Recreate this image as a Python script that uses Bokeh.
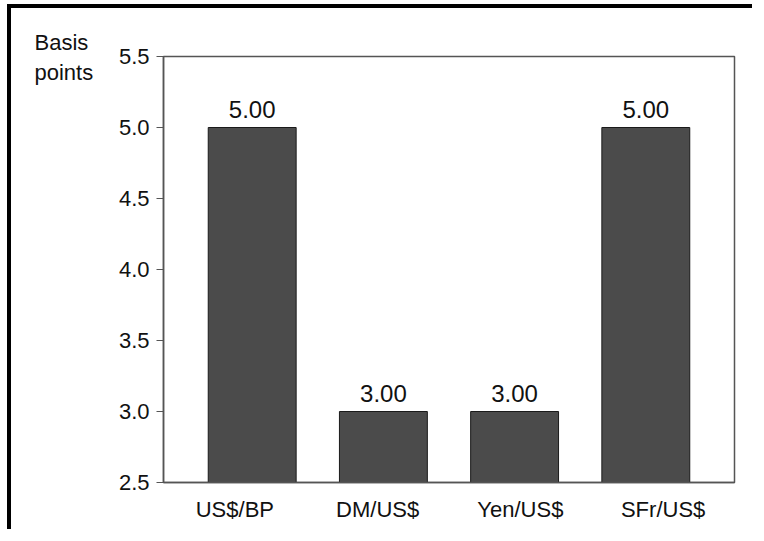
from bokeh.plotting import figure
from bokeh.models import (ColumnDataSource, FactorRange, Range1d, FixedTicker,
                          LabelSet, Label, NumeralTickFormatter, CategoricalAxis)
from bokeh.core.properties import value
from bokeh.embed import file_html
from bokeh.resources import INLINE

# ---- data ----
categories = ["US$/BP", "DM/US$", "Yen/US$", "SFr/US$"]
values = [5.00, 3.00, 3.00, 5.00]
y_ticks = [2.5, 3.0, 3.5, 4.0, 4.5, 5.0, 5.5]
y_min, y_max = 2.5, 5.5
unit_label = ["Basis", "points"]

FONT = "Liberation Sans"

src = ColumnDataSource(dict(
    cat=categories,
    val=values,
    base=[y_min] * len(values),
    txt=[f"{v:.2f}" for v in values],
))

p = figure(
    x_range=FactorRange(*categories, range_padding=0.088, range_padding_units="percent"),
    y_range=Range1d(y_min, y_max),
    width=745, height=525,
    output_backend="svg", toolbar_location=None,
    min_border_left=152, min_border_right=22, min_border_top=48, min_border_bottom=51,
)
p.styles = {
    "margin-top": "4px",
    "margin-left": "7px",
    "border-top": "4px solid black",
    "border-left": "4px solid black",
}

p.vbar(x="cat", top="val", bottom="base", width=0.67, source=src,
       fill_color="#4b4b4b", line_color="#1a1a1a", line_width=1)

labels = LabelSet(x="cat", y="val", text="txt", source=src,
                  text_align="center", text_baseline="alphabetic", y_offset=10,
                  text_font=value(FONT), text_font_size=value("24px"),
                  text_color=value("#111111"))
p.add_layout(labels)

p.xgrid.visible = False
p.ygrid.visible = False
p.outline_line_color = "#555555"
p.outline_line_width = 1.5

ya = p.yaxis[0]
ya.ticker = FixedTicker(ticks=y_ticks)
ya.formatter = NumeralTickFormatter(format="0.0")
ya.major_tick_out = 7
ya.major_tick_in = 0
ya.minor_tick_line_color = None
ya.axis_line_color = "#555555"
ya.axis_line_width = 1.5
ya.major_tick_line_color = "#555555"
ya.major_label_standoff = 7
ya.major_label_text_font = FONT
ya.major_label_text_font_size = "22px"
ya.major_label_text_color = "#111111"

# category labels are evenly spread over the full frame width (no padding)
p.xaxis[0].visible = False
p.extra_x_ranges = {"labels": FactorRange(*categories, range_padding=0)}
xa = CategoricalAxis(x_range_name="labels")
xa.major_tick_out = 0
xa.major_tick_in = 0
xa.minor_tick_line_color = None
xa.axis_line_color = "#555555"
xa.axis_line_width = 1.5
xa.major_label_standoff = 14
xa.major_label_text_font = FONT
xa.major_label_text_font_size = "22px"
xa.major_label_text_color = "#111111"
p.add_layout(xa, "below")

# unit label in the left side panel (not clipped to the frame)
p.add_layout(Label(x=-22, y=425, x_units="screen", y_units="screen",
                   text="\n".join(unit_label), text_font=FONT, text_font_size="22px",
                   text_line_height=1.2,
                   text_baseline="alphabetic", text_color="#111111"), "left")

open("out.html", "w").write(file_html(p, INLINE))
